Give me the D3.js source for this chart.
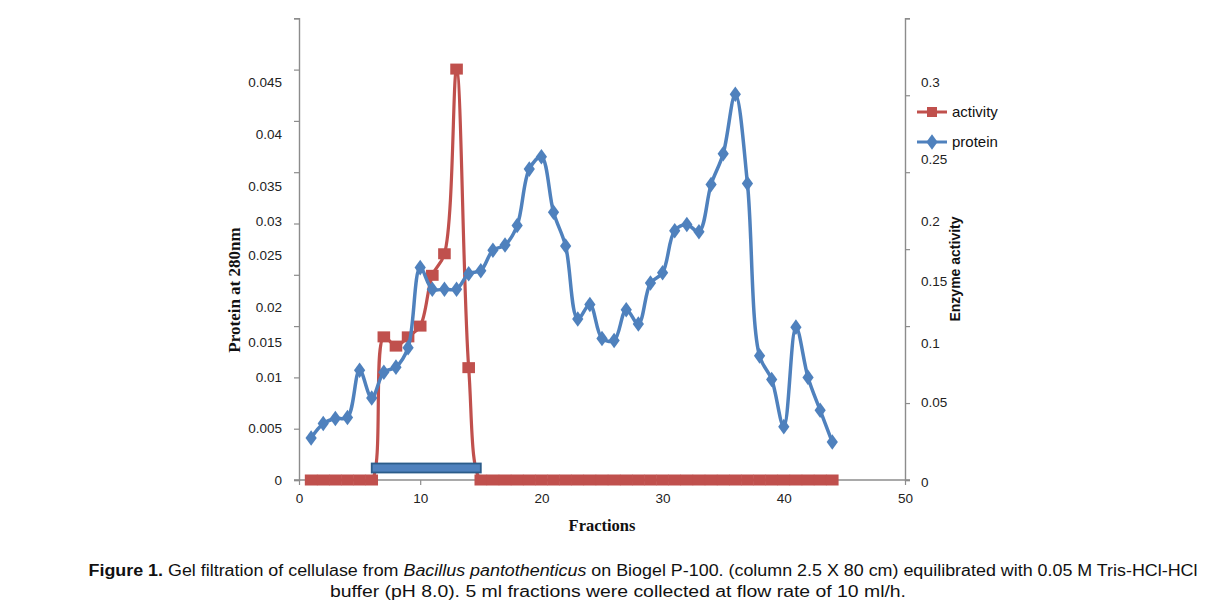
<!DOCTYPE html>
<html><head><meta charset="utf-8">
<script src="https://cdn.jsdelivr.net/npm/d3@7"></script>
<style>
html,body{margin:0;padding:0;background:#fff;}
svg{display:block;font-family:"Liberation Sans",Arial,sans-serif;}
</style></head>
<body>
<svg id="chart" width="1222" height="608"></svg>
<script>
// ---- data ----
const fractions = d3.range(1, 45);
const protein = [0.0041,0.0055,0.0060,0.0061,0.0107,0.0080,0.0105,0.0110,0.0129,0.0207,
  0.0186,0.0186,0.0186,0.0201,0.0204,0.0224,0.0229,0.0248,0.0303,0.0315,
  0.0261,0.0228,0.0157,0.0171,0.0138,0.0136,0.0166,0.0152,0.0192,0.0202,
  0.0243,0.0249,0.0242,0.0288,0.0318,0.0376,0.0289,0.0121,0.0098,0.0052,
  0.0149,0.0100,0.0068,0.0037];
const activity = [0,0,0,0,0,0,0.093,0.087,0.093,0.100,0.133,0.147,0.267,0.073,
  0,0,0,0,0,0,0,0,0,0,0,0,0,0,0,0,0,0,0,0,0,0,0,0,0,0,0,0,0,0];
const pooledRange = [6, 15];
const leftTicks = d3.range(0, 0.0451, 0.005);
const leftLabels = ["0","0.005","0.01","0.015","0.02","0.025","0.03","0.035","0.04","0.045"];
const rightTicks = d3.range(0, 0.301, 0.05);
const rightLabels = ["0","0.05","0.1","0.15","0.2","0.25","0.3"];
const xTicks = [0,10,20,30,40,50];
const seriesNames = ["activity","protein"];

// ---- layout (pixel positions of the tick labels as printed in the figure) ----
const leftLabelY = [480,428,377,342,307,255,221,186,134,82];
const rightLabelY = [482,402,343,281,221,159,82];

const svg = d3.select("#chart");
const x0 = 299, x1 = 905, yTop = 18.3, yBot = 480;
const red = "#c0504d", blue = "#4f81bd", axisCol = "#8c8c8c";

const x = d3.scaleLinear().domain([0,50]).range([x0,x1]);
const yL = d3.scaleLinear().domain([0,0.045]).range([yBot,yTop]);
const yR = d3.scaleLinear().domain([0,0.3]).range([yBot,yTop]);

// axes
const gx = svg.append("g").attr("transform",`translate(0,${yBot})`)
  .call(d3.axisBottom(x).tickValues(xTicks).tickSize(5).tickPadding(8).tickFormat(d3.format("d")));
const gl = svg.append("g").attr("transform",`translate(${x0},0)`)
  .call(d3.axisLeft(yL).tickValues(leftTicks).tickSize(5).tickFormat(""));
const gr = svg.append("g").attr("transform",`translate(${x1},0)`)
  .call(d3.axisRight(yR).tickValues(rightTicks).tickSize(5).tickFormat(""));
[gx,gl,gr].forEach(g=>{
  g.select(".domain").attr("stroke",axisCol).attr("stroke-width",1.4);
  g.selectAll(".tick line").attr("stroke",axisCol).attr("stroke-width",1.2);
});
gx.select(".domain").attr("d",`M${x0-5},0H${x1+5}`);
gx.selectAll(".tick text").attr("font-size","13.5px").attr("fill","#222")
  .attr("font-family","Liberation Sans, Arial, sans-serif");

// left tick labels
svg.append("g").selectAll("text").data(leftLabels).join("text")
  .attr("x",282).attr("y",(d,i)=>leftLabelY[i]).attr("dy","0.35em")
  .attr("text-anchor","end").attr("font-size","13.5px").attr("fill","#222").text(d=>d);
// right tick labels
svg.append("g").selectAll("text").data(rightLabels).join("text")
  .attr("x",921).attr("y",(d,i)=>rightLabelY[i]).attr("dy","0.35em")
  .attr("text-anchor","start").attr("font-size","13.5px").attr("fill","#222").text(d=>d);

// axis titles
svg.append("text").attr("transform","translate(240,290) rotate(-90)")
  .attr("text-anchor","middle").attr("font-family","Liberation Serif, Times New Roman, serif")
  .attr("font-weight","bold").attr("font-size","17px").attr("fill","#111").text("Protein at 280nm");
svg.append("text").attr("transform","translate(960,269) rotate(-90)")
  .attr("text-anchor","middle").attr("font-weight","bold").attr("font-size","14px").attr("fill","#111").text("Enzyme activity");
svg.append("text").attr("x",602).attr("y",531)
  .attr("text-anchor","middle").attr("font-family","Liberation Serif, Times New Roman, serif")
  .attr("font-weight","bold").attr("font-size","16.5px").attr("fill","#111").text("Fractions");

// activity series (right axis)
const curve = d3.curveCatmullRom.alpha(0.5);
const actData = fractions.map((f,i)=>({f, v:activity[i]}));
svg.append("path").datum(actData)
  .attr("fill","none").attr("stroke",red).attr("stroke-width",3.2)
  .attr("d", d3.line().x(d=>x(d.f)).y(d=>yR(d.v)).curve(curve));
svg.append("g").selectAll("rect").data(actData).join("rect")
  .attr("x",d=>x(d.f)-6.3).attr("y",d=>yR(d.v)-5.5).attr("width",12.6).attr("height",11)
  .attr("fill",red);

// pooled fractions bar
svg.append("rect").attr("x",x(pooledRange[0])).attr("y",463.5)
  .attr("width",x(pooledRange[1])-x(pooledRange[0])).attr("height",9)
  .attr("fill",blue).attr("stroke","#2b5c8a").attr("stroke-width",1.8);

// protein series (left axis)
const protData = fractions.map((f,i)=>({f, v:protein[i]}));
svg.append("path").datum(protData)
  .attr("fill","none").attr("stroke",blue).attr("stroke-width",3.5)
  .attr("d", d3.line().x(d=>x(d.f)).y(d=>yL(d.v)).curve(curve));
const diamond = d3.symbol().type(d3.symbolDiamond).size(70);
svg.append("g").selectAll("path").data(protData).join("path")
  .attr("transform",d=>`translate(${x(d.f)},${yL(d.v)}) scale(1.25,1)`)
  .attr("d",diamond).attr("fill",blue);

// legend
const lg = svg.append("g");
const legendY = [112, 142];
seriesNames.forEach((name,i)=>{
  const c = i===0?red:blue;
  lg.append("line").attr("x1",917).attr("x2",947).attr("y1",legendY[i]).attr("y2",legendY[i])
    .attr("stroke",c).attr("stroke-width",3);
  if(i===0) lg.append("rect").attr("x",927).attr("y",legendY[i]-5).attr("width",10).attr("height",10).attr("fill",c);
  else lg.append("path").attr("transform",`translate(932,${legendY[i]}) scale(1.25,1)`).attr("d",diamond).attr("fill",c);
  lg.append("text").attr("x",952).attr("y",legendY[i]).attr("dy","0.35em")
    .attr("font-size","15px").attr("fill","#111").text(name);
});

// caption
const cap1 = svg.append("text").attr("x",643).attr("y",576).attr("text-anchor","middle")
  .attr("font-size","16px").attr("fill","#111");
cap1.append("tspan").attr("font-weight","bold").text("Figure 1.");
cap1.append("tspan").text(" Gel filtration of cellulase from ");
cap1.append("tspan").attr("font-style","italic").text("Bacillus pantothenticus");
cap1.append("tspan").text(" on Biogel P-100. (column 2.5 X 80 cm) equilibrated with 0.05 M Tris-HCl-HCl");
cap1.attr("textLength",1109).attr("lengthAdjust","spacingAndGlyphs");
svg.append("text").attr("x",618).attr("y",597).attr("text-anchor","middle")
  .attr("font-size","16px").attr("fill","#111")
  .attr("textLength",576).attr("lengthAdjust","spacingAndGlyphs")
  .text("buffer (pH 8.0). 5 ml fractions were collected at flow rate of 10 ml/h.");
</script>
</body></html>
